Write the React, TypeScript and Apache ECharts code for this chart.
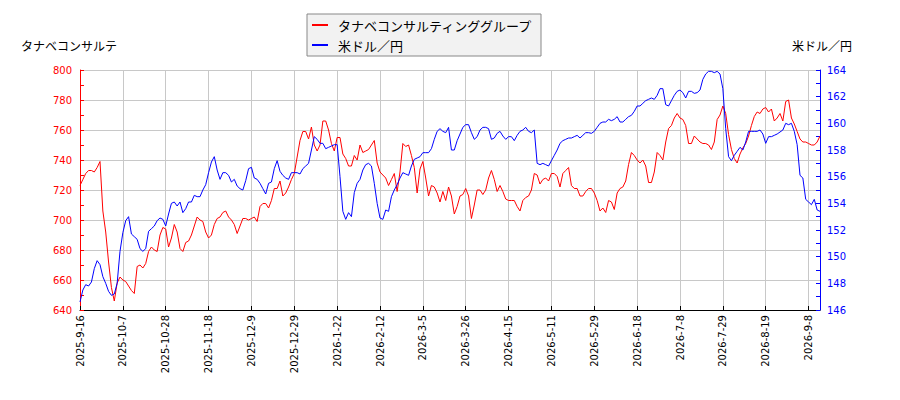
import * as echarts from 'echarts';
import { useEffect, useRef } from 'react';

// 日次データ（左軸：株価、右軸：為替）
const tanabe: number[] = [
  723, 727, 731, 733, 733, 732, 735, 739, 706, 692, 672, 655, 646, 658, 662, 660, 659, 656, 653, 651,
  669, 670, 668, 671, 679, 682, 680, 679, 690, 695, 694, 682, 688, 697, 692, 681, 679, 685, 686, 690,
  696, 702, 700, 699, 692, 688, 690, 697, 701, 702, 705, 706, 702, 700, 697, 691, 696, 701, 701, 700,
  701, 702, 699, 709, 711, 711, 708, 713, 721, 721, 726, 716, 718, 722, 727, 731, 742, 753, 759, 759,
  754, 762, 750, 746, 750, 766, 766, 760, 751, 746, 755, 755, 744, 741, 736, 736, 743, 740, 750, 745,
  746, 747, 750, 753, 738, 732, 730, 728, 723, 727, 731, 719, 732, 751, 749, 750, 743, 735, 718, 734,
  739, 728, 716, 723, 722, 718, 712, 719, 713, 722, 716, 704, 709, 716, 717, 721, 716, 701, 710, 720,
  720, 717, 720, 728, 733, 727, 719, 723, 719, 714, 713, 713, 713, 709, 706, 713, 715, 716, 720, 731,
  730, 724, 727, 728, 726, 731, 731, 729, 722, 731, 733, 735, 723, 721, 721, 716, 716, 719, 721, 721,
  718, 713, 706, 708, 705, 713, 712, 707, 718, 721, 722, 726, 737, 745, 743, 740, 738, 740, 736, 725,
  725, 732, 745, 743, 740, 752, 761, 763, 768, 771, 768, 767, 763, 751, 751, 756, 754, 752, 751, 751,
  750, 747, 752, 767, 770, 776, 771, 757, 747, 741, 738, 744, 748, 751, 756, 763, 769, 772, 771, 774,
  775, 772, 774, 766, 768, 771, 766, 779, 780, 768, 764, 759, 754, 752, 752, 751, 750, 750, 752, 756,
];

const usdJpy: number[] = [
  146.6, 147.5, 147.9, 147.8, 148.1, 149.1, 149.7, 149.4, 148.5, 148.0,
  147.4, 147.1, 147.2, 148.0, 150.4, 151.8, 152.7, 153.0, 151.7, 151.5,
  151.3, 150.6, 150.4, 150.6, 151.9, 152.1, 152.3, 152.7, 152.9, 152.8,
  152.3, 153.2, 154.0, 154.1, 153.8, 154.1, 153.3, 153.6, 154.1, 154.1,
  154.6, 154.5, 154.5, 155.0, 155.4, 156.3, 157.1, 157.5, 156.5, 155.8,
  156.3, 156.3, 156.1, 155.6, 155.8, 155.3, 155.1, 155.0, 155.7, 156.6,
  156.7, 155.9, 155.8, 155.5, 155.1, 154.7, 155.5, 155.6, 156.6, 157.2,
  156.4, 156.1, 155.9, 155.8, 156.3, 156.3, 156.3, 156.2, 156.6, 156.8,
  157.0, 158.0, 159.0, 158.8, 158.5, 158.5, 158.1, 158.2, 158.3, 158.4,
  158.4, 156.0, 153.4, 152.8, 153.3, 153.0, 154.8, 155.5, 155.8, 156.5,
  156.9, 157.0, 156.8, 155.5, 154.0, 152.9, 152.8, 153.5, 153.4, 154.5,
  155.0, 155.4, 155.9, 156.3, 156.2, 156.1, 156.8, 157.3, 157.4, 157.5,
  157.8, 157.8, 157.8, 158.1, 158.8, 159.4, 159.6, 159.4, 159.3, 159.7,
  158.0, 158.0, 158.7, 159.2, 159.7, 159.9, 159.9, 159.3, 158.8, 159.0,
  159.5, 159.7, 159.7, 159.6, 158.8, 158.9, 159.25, 159.4, 159.05, 158.8,
  159.0, 159.0, 158.7, 159.1, 159.4, 159.5, 159.7, 159.4, 159.3, 159.5,
  157.0, 156.9, 157.0, 156.9, 156.8, 157.2, 157.6, 158.0, 158.5, 158.7,
  158.8, 158.9, 158.9, 159.0, 159.1, 158.9, 159.1, 159.3, 159.3, 159.25,
  159.4, 159.7, 160.0, 160.1, 160.1, 160.3, 160.2, 160.3, 160.5, 160.1,
  160.1, 160.3, 160.5, 160.6, 160.9, 161.3, 161.3, 161.5, 161.7, 161.8,
  161.9, 161.8, 162.1, 162.6, 162.6, 161.4, 161.3, 161.7, 162.1, 162.4,
  162.5, 162.3, 161.9, 162.4, 162.4, 162.25, 162.3, 162.5, 163.3, 163.7,
  163.9, 163.9, 163.8, 163.9, 163.7, 162.6, 159.6, 157.5, 157.2, 157.6,
  157.9, 158.2, 158.0, 158.6, 159.4, 159.4, 159.4, 159.4, 159.5, 159.2,
  158.5, 159.0, 159.0, 159.1, 159.2, 159.35, 159.5, 160.0, 159.9, 160.0,
  159.4, 158.4, 156.1, 155.9, 154.3, 154.1, 153.9, 154.3, 153.5, 153.4,
];

// 15営業日ごとの目盛りラベル
const tickLabels: string[] = [
  '2025-9-16', '2025-10-7', '2025-10-28', '2025-11-18', '2025-12-9', '2025-12-29',
  '2026-1-22', '2026-2-12', '2026-3-5', '2026-3-26', '2026-4-15', '2026-5-11',
  '2026-5-29', '2026-6-18', '2026-7-8', '2026-7-29', '2026-8-19', '2026-9-8',
];
const labelStep = 15;

const seriesNames = ['タナベコンサルティンググループ', '米ドル／円'];
const leftAxisName = 'タナベコンサルテ';
const rightAxisName = '米ドル／円';

const jpFont = '"Noto Sans CJK JP", "Noto Sans", sans-serif';
const numFont = '"DejaVu Sans", sans-serif';

export default function App() {
  const chartRef = useRef<HTMLDivElement>(null);

  useEffect(() => {
    if (!chartRef.current) return;
    const chart = echarts.init(chartRef.current, undefined, { renderer: 'svg' });

    const categories = tanabe.map((_, i) => String(i));
    const gridColor = '#c8c8c8';

    chart.setOption({
      animation: false,
      textStyle: { fontFamily: numFont },
      grid: { left: 80, right: 80, top: 70, bottom: 90, containLabel: false },
      legend: {
        orient: 'vertical',
        left: 307,
        top: 14,
        padding: [4, 8, 4, 5],
        itemGap: 6,
        itemWidth: 16,
        itemHeight: 2,
        icon: 'rect',
        backgroundColor: '#f2f2f2',
        borderColor: '#888888',
        borderWidth: 1,
        borderRadius: 0,
        textStyle: {
          fontFamily: jpFont,
          fontSize: 13,
          color: '#000',
          lineHeight: 14,
          padding: [0, 0, 0, 5],
        },
        data: seriesNames,
      },
      graphic: [
        {
          type: 'text',
          left: 21,
          top: 39,
          style: { text: leftAxisName, font: `12px ${jpFont}`, fill: '#000' },
        },
        {
          type: 'text',
          left: 792,
          top: 39,
          style: { text: rightAxisName, font: `12px ${jpFont}`, fill: '#000' },
        },
      ],
      xAxis: {
        type: 'category',
        data: categories,
        boundaryGap: false,
        axisLine: { lineStyle: { color: '#000', width: 1 } },
        axisTick: { inside: true, length: 4, interval: labelStep - 1, lineStyle: { color: '#000' } },
        axisLabel: {
          interval: labelStep - 1,
          rotate: 90,
          fontSize: 10,
          fontFamily: numFont,
          color: '#000',
          margin: 5,
          formatter: (_v: string, idx: number) => tickLabels[Math.round(idx / labelStep)] ?? '',
        },
        splitLine: { show: true, interval: labelStep - 1, lineStyle: { color: gridColor, width: 1 } },
      },
      yAxis: [
        {
          type: 'value',
          min: 640,
          max: 800,
          interval: 20,
          position: 'left',
          axisLine: { show: true, lineStyle: { color: '#ff0000', width: 1 } },
          axisTick: { show: true, inside: true, length: 4, lineStyle: { color: '#ff0000' } },
          minorTick: { show: true, splitNumber: 2, length: 4, lineStyle: { color: '#ff0000' } },
          axisLabel: { color: '#ff0000', fontSize: 10, fontFamily: numFont, margin: 8 },
          splitLine: { show: true, lineStyle: { color: gridColor, width: 1 } },
        },
        {
          type: 'value',
          min: 146,
          max: 164,
          interval: 2,
          position: 'right',
          axisLine: { show: true, lineStyle: { color: '#0000ff', width: 1 } },
          axisTick: { show: true, inside: true, length: 4, lineStyle: { color: '#0000ff' } },
          minorTick: { show: true, splitNumber: 2, length: 4, lineStyle: { color: '#0000ff' } },
          axisLabel: { color: '#0000ff', fontSize: 10, fontFamily: numFont, margin: 7 },
          splitLine: { show: false },
        },
      ],
      series: [
        {
          name: seriesNames[0],
          type: 'line',
          yAxisIndex: 0,
          data: tanabe,
          showSymbol: false,
          symbol: 'none',
          lineStyle: { color: '#ff0000', width: 1 },
          itemStyle: { color: '#ff0000' },
        },
        {
          name: seriesNames[1],
          type: 'line',
          yAxisIndex: 1,
          data: usdJpy,
          showSymbol: false,
          symbol: 'none',
          lineStyle: { color: '#0000ff', width: 1 },
          itemStyle: { color: '#0000ff' },
        },
      ],
    });

    return () => {
      chart.dispose();
    };
  }, []);

  return (
    <div
      ref={chartRef}
      style={{ position: 'fixed', left: 0, top: 0, width: '900px', height: '400px', background: '#fff' }}
    />
  );
}
